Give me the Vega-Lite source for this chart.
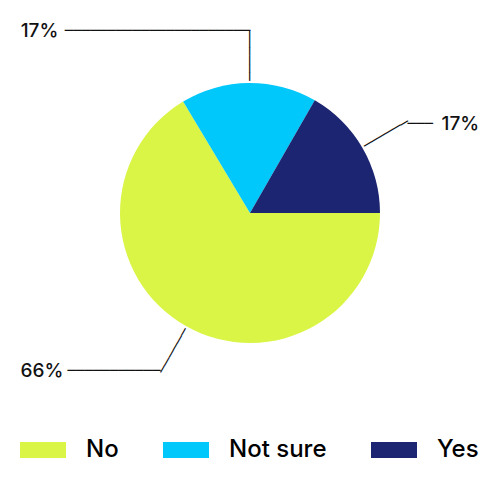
{
  "$schema": "https://vega.github.io/schema/vega-lite/v6.json",
  "description": "Pie chart of answers (No / Not sure / Yes) with leader-line labels",
  "width": 500,
  "height": 426,
  "autosize": {"type": "none"},
  "padding": {"left": 0, "top": 0, "right": 0, "bottom": 56},
  "background": "white",
  "data": {
    "values": [
      {"answer": "No", "pct": 0.664},
      {"answer": "Not sure", "pct": 0.169},
      {"answer": "Yes", "pct": 0.167}
    ]
  },
  "encoding": {
    "theta": {"field": "pct", "type": "quantitative", "stack": true},
    "order": {"field": "answer", "type": "ordinal", "sort": "ascending"}
  },
  "layer": [
    {
      "mark": {"type": "arc", "outerRadius": 130},
      "encoding": {
        "theta": {
          "field": "pct",
          "type": "quantitative",
          "stack": true,
          "scale": {"range": [1.5708, 7.854]}
        },
        "color": {
          "field": "answer",
          "type": "nominal",
          "scale": {
            "domain": ["No", "Not sure", "Yes"],
            "range": ["#DAF545", "#00C8FB", "#1C2571"]
          },
          "legend": {
            "title": null,
            "orient": "none",
            "legendX": 20,
            "legendY": 427,
            "direction": "horizontal",
            "symbolType": "M-1,-0.35H1V0.35H-1Z",
            "symbolSize": 2116,
            "symbolStrokeWidth": 0,
            "symbolOpacity": 1,
            "labelFont": "Inter",
            "labelFontSize": 24,
            "labelFontWeight": 500,
            "labelColor": "#000",
            "labelOffset": 20,
            "columnPadding": 44
          }
        }
      }
    },
    {
      "mark": {"type": "text", "radius": 157.5, "font": "DejaVu Sans", "fontSize": 14, "color": "#111", "align": "center", "baseline": "middle"},
      "encoding": {
        "text": {"value": "──────"},
        "angle": {
          "condition": [
            {"test": "datum.answer === 'Not sure'", "value": 90},
            {"test": "datum.answer === 'Yes'", "value": 330}
          ],
          "value": 119.5
        }
      }
    },
    {
      "mark": {"type": "text", "radius": 182, "font": "DejaVu Sans", "fontSize": 14, "color": "#111", "align": "right", "baseline": "middle", "dx": 2},
      "encoding": {
        "text": {"condition": {"test": "datum.answer === 'Not sure'", "value": "──────────────────────"}, "value": ""}
      }
    },
    {
      "mark": {"type": "text", "radius": 182, "font": "DejaVu Sans", "fontSize": 14, "color": "#111", "align": "left", "baseline": "middle", "dy": 2},
      "encoding": {
        "text": {"condition": {"test": "datum.answer === 'Yes'", "value": "───"}, "value": ""}
      }
    },
    {
      "mark": {"type": "text", "radius": 182, "font": "DejaVu Sans", "fontSize": 14, "color": "#111", "align": "right", "baseline": "middle"},
      "encoding": {
        "text": {"condition": {"test": "datum.answer === 'No'", "value": "───────────"}, "value": ""}
      }
    },
    {
      "mark": {"type": "text", "radius": 182, "font": "Inter", "fontSize": 19, "fontWeight": 500, "color": "#111", "align": "right", "baseline": "middle", "dx": -190},
      "encoding": {
        "text": {"condition": {"test": "datum.answer === 'Not sure'", "field": "pct", "type": "quantitative", "format": ".0%"}, "value": ""}
      }
    },
    {
      "mark": {"type": "text", "radius": 182, "font": "Inter", "fontSize": 19, "fontWeight": 500, "color": "#111", "align": "left", "baseline": "middle", "dx": 34, "dy": 2},
      "encoding": {
        "text": {"condition": {"test": "datum.answer === 'Yes'", "field": "pct", "type": "quantitative", "format": ".0%"}, "value": ""}
      }
    },
    {
      "mark": {"type": "text", "radius": 182, "font": "Inter", "fontSize": 19, "fontWeight": 500, "color": "#111", "align": "right", "baseline": "middle", "dx": -97},
      "encoding": {
        "text": {"condition": {"test": "datum.answer === 'No'", "field": "pct", "type": "quantitative", "format": ".0%"}, "value": ""}
      }
    }
  ],
  "config": {"view": {"stroke": null}}
}
